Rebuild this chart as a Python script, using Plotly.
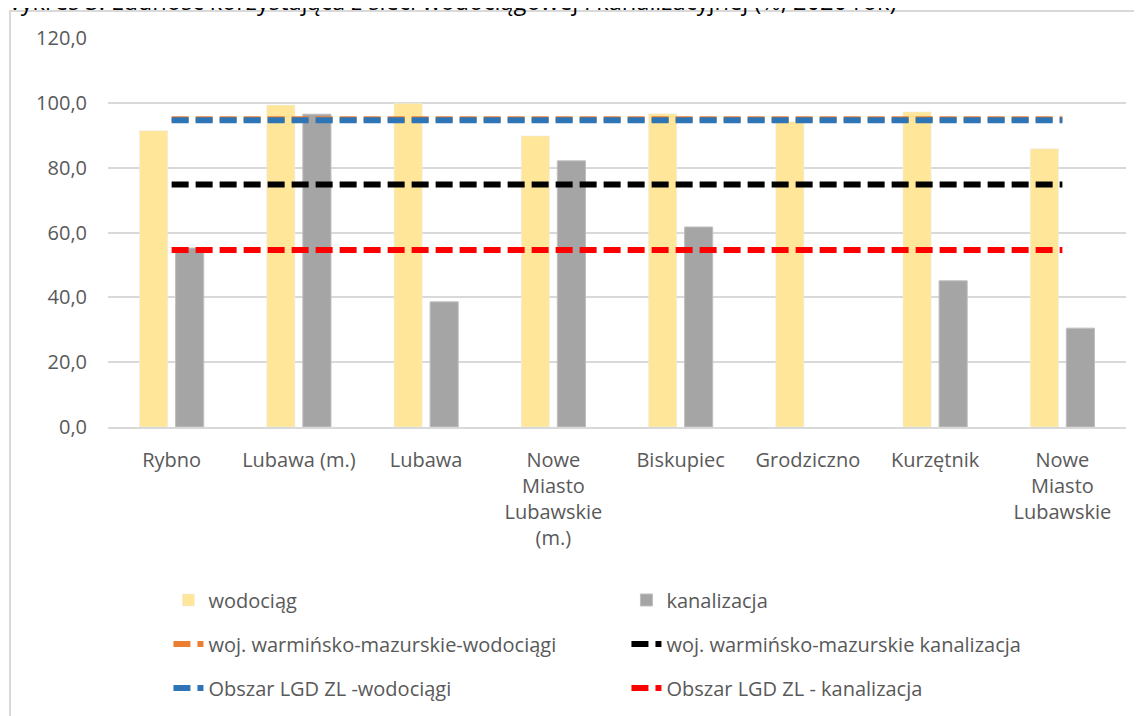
import plotly.graph_objects as go

# dane z wykresu
gminy = ["Rybno", "Lubawa (m.)", "Lubawa", "Nowe<br>Miasto<br>Lubawskie<br>(m.)", "Biskupiec",
         "Grodziczno", "Kurzętnik", "Nowe<br>Miasto<br>Lubawskie"]
wodociag = [91.4, 99.3, 99.9, 89.8, 96.6, 94.2, 97.2, 85.8]
kanalizacja = [55.2, 96.5, 38.6, 82.1, 61.7, None, 45.1, 30.5]
woj_wod = [94.9] * 8
woj_kan = [74.8] * 8
lgd_wod = [94.6] * 8
lgd_kan = [54.6] * 8

FONT = "Open Sans, Lato, sans-serif"
GREY_TXT = "#595959"

fig = go.Figure()
fig.add_trace(go.Bar(x=gminy, y=wodociag, name="wodociąg", marker_color="#FFE699",
                     legend="legend"))
fig.add_trace(go.Bar(x=gminy, y=kanalizacja, name="kanalizacja", marker_color="#A5A5A5",
                     marker_line=dict(color="#BFBFBF", width=1), legend="legend"))

linie = [
    ("woj. warmińsko-mazurskie-wodociągi", woj_wod, "#ED7D31", "legend2"),
    ("woj. warmińsko-mazurskie kanalizacja", woj_kan, "#000000", "legend2"),
    ("Obszar LGD ZL -wodociągi", lgd_wod, "#2E75B6", "legend3"),
    ("Obszar LGD ZL - kanalizacja", lgd_kan, "#FF0000", "legend3"),
]
for nazwa, wart, kolor, leg in linie:
    fig.add_trace(go.Scatter(x=gminy, y=wart, name=nazwa, mode="lines", legend=leg,
                             line=dict(color=kolor, width=6, dash="17px,7px")))

# trzy wiersze legendy, po dwie pozycje
leg_style = dict(orientation="h", x=0.1405, xanchor="left", xref="container",
                 yanchor="middle", yref="container", entrywidth=413,
                 traceorder="normal", font=dict(size=20, color=GREY_TXT),
                 bgcolor="rgba(0,0,0,0)")

fig.update_layout(
    width=1142, height=716,
    margin=dict(l=100, r=24, t=30, b=297),
    paper_bgcolor="white", plot_bgcolor="white",
    font=dict(family=FONT, size=20, color=GREY_TXT),
    barmode="group", bargap=0.433, bargroupgap=0.22,
    legend=dict(leg_style, y=0.1732),
    legend2=dict(leg_style, y=0.1117),
    legend3=dict(leg_style, y=0.0503),
    showlegend=True,
)
fig.update_yaxes(range=[0, 120], dtick=20, tickformat=".1f", showgrid=True,
                 gridcolor="#D9D9D9", gridwidth=2, zeroline=False, showline=False,
                 ticks="", ticklabelstandoff=20, automargin=False)
fig.update_xaxes(showgrid=False, showline=True, linecolor="#D9D9D9", linewidth=2,
                 ticks="", tickangle=0, ticklabelstandoff=14, automargin=False)
fig.update_layout(separators=", ")

# tytul (w oryginale przyciety u gory)
fig.add_annotation(text="Wykres 3. Ludność korzystająca z sieci wodociągowej i kanalizacyjnej (%, 2020 rok)",
                   xref="paper", yref="paper", x=0, y=1, xanchor="left", yanchor="bottom",
                   xshift=-111, yshift=19, showarrow=False,
                   font=dict(family=FONT, size=23.6, color="black"))

# ramka wykresu
fig.add_shape(type="rect", xref="paper", yref="paper",
              xsizemode="pixel", ysizemode="pixel", xanchor=0, yanchor=1,
              x0=-98, x1=1100, y0=-800, y1=27,
              line=dict(color="#D9D9D9", width=2), fillcolor="rgba(0,0,0,0)", layer="below")

fig.write_html("out.html")
